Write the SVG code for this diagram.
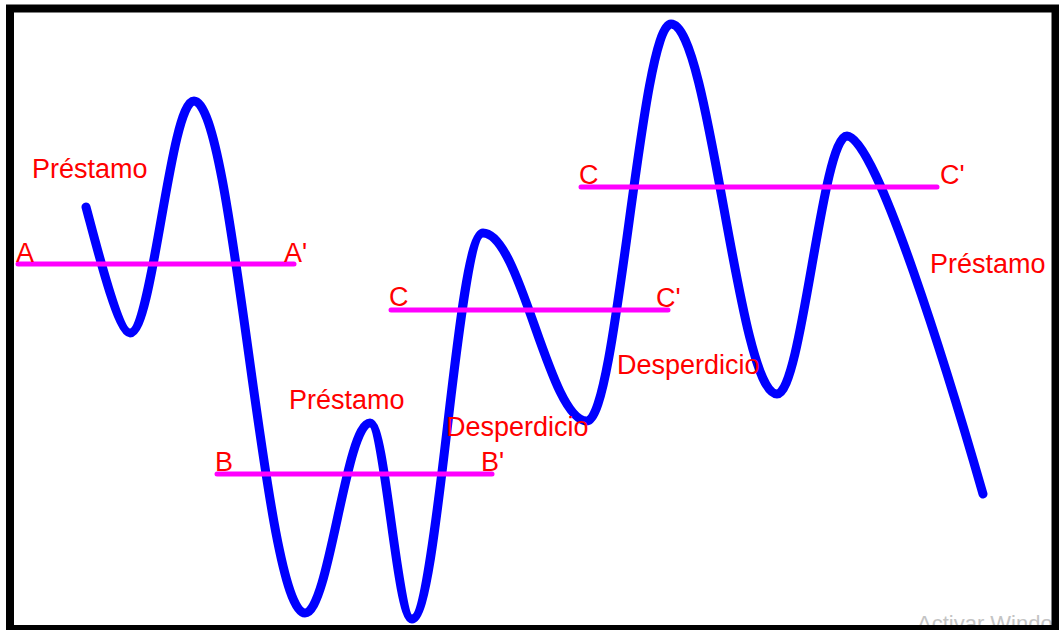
<svg xmlns="http://www.w3.org/2000/svg" width="1059" height="630" viewBox="0 0 1059 630">
<style>
.lbl{font-family:"Liberation Sans",Arial,sans-serif;font-size:27px;fill:#ff0000}
.lvl{stroke:#ff00ff;stroke-width:5;stroke-linecap:round;fill:none}
.wave{stroke:#0000ff;stroke-width:9;stroke-linecap:round;stroke-linejoin:round;fill:none}
.wm{font-family:"Liberation Sans",Arial,sans-serif;font-size:22px;fill:#c4c4c4}
</style>
<rect x="0" y="0" width="1059" height="630" fill="#ffffff"/>
<text class="wm" x="917" y="631">Activar Windo</text>
<g id="connectors">
<path id="wave" class="wave" d="M86,207 C95,240 118,333 130,333 C153,333 170,101 194,101 C234,101 264,613 305,613 C329,613 346,423 370,423 C385,423 397,619 412,619 C438,619 457,233 483,233 C521,233 549,421 587,421 C617,421 641,24 671,24 C710,24 738,394 777,394 C802,394 822,136 847,136 C876,136 950,379 983,494"/>
</g>
<g id="level-A"><line class="lvl" x1="18" y1="264" x2="294" y2="264"/>
<text class="lbl" x="16" y="262">A</text><text class="lbl" x="284" y="262">A'</text></g>
<g id="level-B"><line class="lvl" x1="217" y1="474" x2="492" y2="474"/>
<text class="lbl" x="215" y="471">B</text><text class="lbl" x="481" y="471">B'</text></g>
<g id="level-C1"><line class="lvl" x1="391" y1="310" x2="668" y2="310"/>
<text class="lbl" x="389" y="306">C</text><text class="lbl" x="656" y="307">C'</text></g>
<g id="level-C2"><line class="lvl" x1="581" y1="187" x2="937" y2="187"/>
<text class="lbl" x="579" y="184">C</text><text class="lbl" x="940" y="184">C'</text></g>
<g id="label-prestamo-1"><text class="lbl" x="32" y="178">Préstamo</text></g>
<g id="label-prestamo-2"><text class="lbl" x="289" y="409">Préstamo</text></g>
<g id="label-prestamo-3"><text class="lbl" x="930" y="273">Préstamo</text></g>
<g id="label-desperdicio-1"><text class="lbl" x="446" y="436">Desperdicio</text></g>
<g id="label-desperdicio-2"><text class="lbl" x="617" y="374">Desperdicio</text></g>
<rect id="frame" x="10" y="8.5" width="1045.5" height="620.5" fill="none" stroke="#000000" stroke-width="8"/>
</svg>
